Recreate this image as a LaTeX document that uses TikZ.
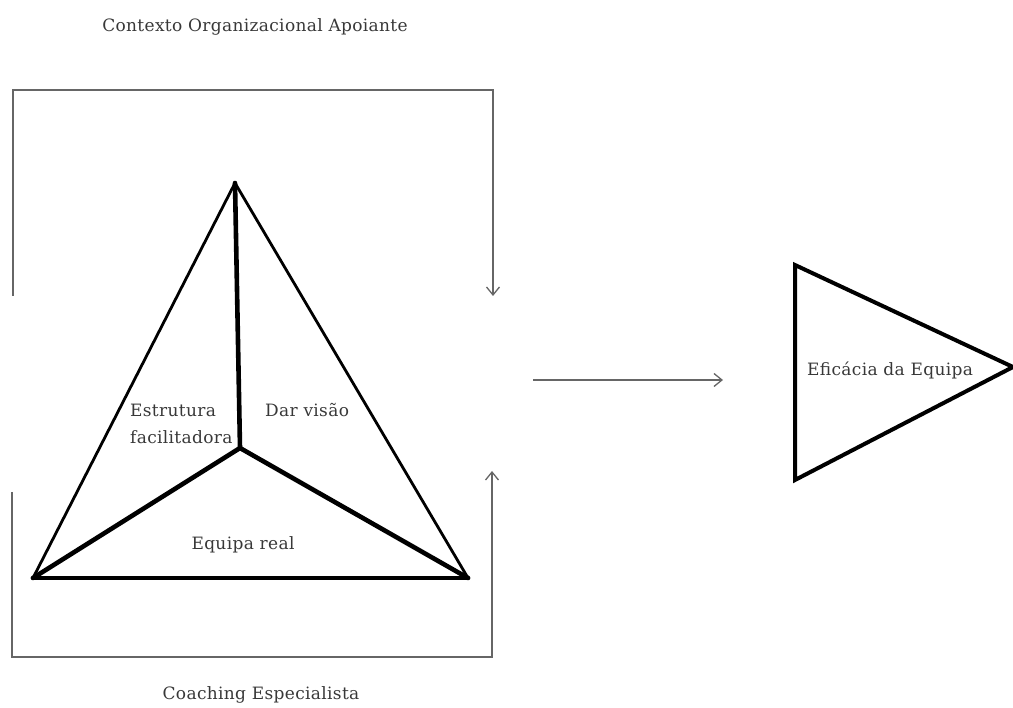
\documentclass[tikz,border=0pt]{standalone}
\usepackage{fontspec}
\setmainfont{DejaVu Serif}
\usetikzlibrary{arrows.meta}
\begin{document}
\begin{tikzpicture}[x=1pt,y=-1pt,
  label/.style={inner sep=0pt,font=\fontsize{17}{20}\selectfont\addfontfeature{LetterSpace=2},text=black!78},
  frame/.style={draw=black!60,line width=1.4pt},
  flow/.style={frame,-{Straight Barb[length=8pt,width=13pt,line width=1.3pt]}},
  outer/.style={line width=2.8pt,line join=round},
  inner/.style={line width=4.6pt,line join=round,line cap=round}]
\useasboundingbox (0,0) rectangle (1013,708);

% corners of the model triangle
\coordinate (apex) at (235,183);
\coordinate (bl) at (33,578);
\coordinate (br) at (468,578);
\coordinate (hub) at (240,448);

% corners of the outcome triangle
\coordinate (ot) at (795,265);
\coordinate (ob) at (795,480);
\coordinate (otip) at (1013,367);

% feedback frames
\coordinate (tl0) at (13,296);
\coordinate (tl1) at (13,90);
\coordinate (tr1) at (493,90);
\coordinate (tr0) at (493,296);
\coordinate (bl0) at (12,492);
\coordinate (bl1) at (12,657);
\coordinate (br1) at (492,657);
\coordinate (br0) at (492,471);

% main arrow
\coordinate (m0) at (533,380);
\coordinate (m1) at (723,380);

\draw[flow] (tl0) -- (tl1) -- (tr1) -- (tr0);
\draw[flow] (bl0) -- (bl1) -- (br1) -- (br0);
\draw[flow] (m0) -- (m1);

% model triangle
\draw[outer] (bl) -- (apex) -- (br);
\draw[inner] (bl) -- (br);
\draw[inner] (apex) -- (hub);
\draw[inner] (bl) -- (hub) -- (br);

% outcome triangle
\draw[line width=4pt,line join=miter] (ot) -- (ob) -- (otip) -- cycle;

% labels
\node[label] (ctx) at (255,27) {Contexto Organizacional Apoiante};
\node[label] (coach) at (261,695) {Coaching Especialista};
\node[label,anchor=west] (est) at (130,410) {Estrutura};
\node[label,anchor=west] (fac) at (130,437) {facilitadora};
\node[label,anchor=west] (dar) at (265,410) {Dar visão};
\node[label] (eq) at (243,545) {Equipa real};
\node[label,anchor=west] (efi) at (807,370) {Eficácia da Equipa};
\end{tikzpicture}
\end{document}
